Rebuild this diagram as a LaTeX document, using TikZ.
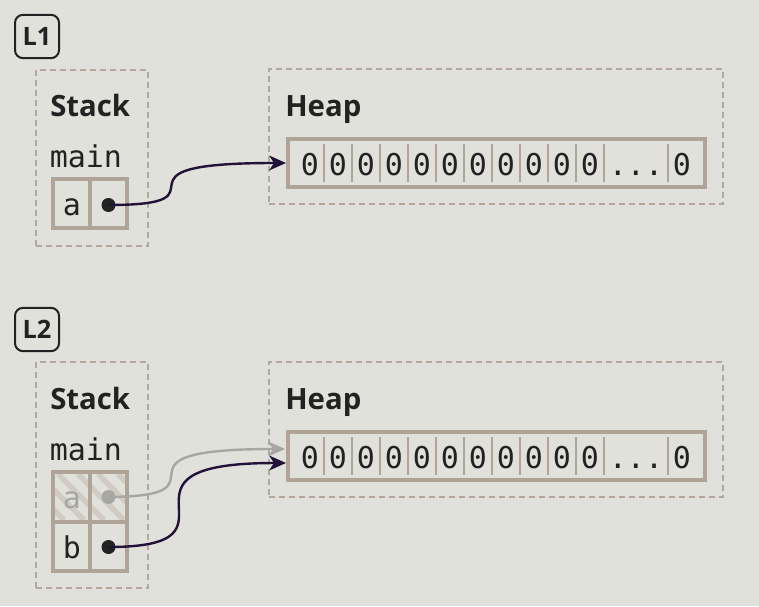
\documentclass[tikz,border=0pt]{standalone}
\usepackage{fontspec}
\setmainfont{Open Sans}
\newfontfamily\monofont{DejaVu Sans Mono}
\usetikzlibrary{arrows.meta}
\definecolor{bg}{HTML}{E1E1DB}
\definecolor{taupe}{HTML}{AFA497}
\definecolor{dashc}{HTML}{B3A89B}
\definecolor{ink}{HTML}{222222}
\definecolor{arrowc}{HTML}{22123A}
\definecolor{fadec}{HTML}{A6A6A3}
\definecolor{hatchc}{HTML}{D1CCC3}
\begin{document}
\begin{tikzpicture}[x=0.75pt,y=-0.75pt,
  region/.style={draw=dashc, line width=1.1pt, dash pattern=on 4.5pt off 3pt, inner sep=0pt},
  labelbox/.style={draw=ink, line width=1.5pt, rounded corners=6pt, minimum width=33pt, minimum height=32.5pt, inner sep=0pt, text=ink, font=\fontsize{19pt}{21pt}\selectfont\bfseries},
  heading/.style={inner sep=0pt, anchor=base west, text=ink, font=\fontsize{22pt}{25pt}\selectfont\bfseries},
  mono/.style={inner sep=0pt, anchor=base, text=ink, font=\monofont\fontsize{22.5pt}{25pt}\selectfont},
  arraybox/.style={draw=taupe, line width=3pt, minimum width=312.75pt, minimum height=36pt, inner sep=0pt},
  tablebox/.style={draw=taupe, line width=3pt, inner sep=0pt, minimum width=55.5pt},
  divider/.style={draw=taupe, line width=1.5pt},
  celldiv/.style={draw=taupe, line width=2.5pt},
  ptr/.style={circle, fill=ink, minimum size=10.5pt, inner sep=0pt},
  fadeptr/.style={circle, fill=fadec, minimum size=10.5pt, inner sep=0pt},
  conn/.style={draw=arrowc, line width=1.8pt, -{Stealth[length=12.5pt,width=11pt,inset=3.5pt]}},
  fadeconn/.style={draw=fadec, line width=1.8pt, -{Stealth[length=12.5pt,width=11pt,inset=3.5pt]}}
]
\fill[bg] (0,0) rectangle (759,606);
\useasboundingbox (0,0) rectangle (759,606);

% ================= L1 =================
\node[labelbox] (lab1) at (37,36.5) {L1};
\node[region, minimum width=84pt, minimum height=132pt] (stack1) at (92,158) {};
\node[region, minimum width=340.5pt, minimum height=101.25pt] (heap1) at (496,136.5) {};
\node[heading] (stackt1) at (50,116.5) {Stack};
\node[heading] (heapt1) at (285,116.5) {Heap};
\node[mono, anchor=base west] (main1) at (49.5,167.5) {main};

\node[tablebox, minimum height=36.75pt] (tab1) at (90,203.5) {};
\draw[celldiv] (90,179) -- (90,228);
\node[mono] (va1) at (72,215) {a};
\node[ptr] (pa1) at (108.5,205) {};

\node[arraybox] (arr1) at (496.5,163) {};
\foreach \i in {0,...,10} {
  \node[mono] (z1-\i) at ({310+28*\i},175) {0};
}
\foreach \x in {324,352,...,604} { \draw[divider] (\x,144) -- (\x,182); }
\draw[divider] (668,144) -- (668,182);
\node[mono] (dots1) at (636,175) {...};
\node[mono] (zl1) at (682,175) {0};
\coordinate (in1) at (286,163);

\draw[conn] (pa1.center) .. controls (240,205) and (90,163) .. (in1);

% ================= L2 =================
\node[labelbox] (lab2) at (37,329.5) {L2};
\node[region, minimum width=84pt, minimum height=169.5pt] (stack2) at (92,475) {};
\node[region, minimum width=340.5pt, minimum height=101.25pt] (heap2) at (496,429.5) {};
\node[heading] (stackt2) at (50,409.5) {Stack};
\node[heading] (heapt2) at (285,409.5) {Heap};
\node[mono, anchor=base west] (main2) at (49.5,460.5) {main};

% hatch for the faded row
\begin{scope}
  \clip (55,474) rectangle (125,520);
  \foreach \s in {-62,-42,...,130} {
    \draw[hatchc, line width=4pt] (\s,474) -- ({\s+46},520);
  }
\end{scope}
\node[tablebox, minimum height=74.25pt] (tab2) at (90,521.5) {};
\draw[celldiv] (90,472) -- (90,571);
\draw[celldiv] (53,522) -- (127,522);
\node[mono, text=fadec] (va2) at (72,508.5) {a};
\node[fadeptr] (pa2) at (108.5,497) {};
\node[mono] (vb2) at (72,558) {b};
\node[ptr] (pb2) at (108.5,547) {};

\node[arraybox] (arr2) at (496.5,456) {};
\foreach \i in {0,...,10} {
  \node[mono] (z2-\i) at ({310+28*\i},468) {0};
}
\foreach \x in {324,352,...,604} { \draw[divider] (\x,437) -- (\x,475); }
\draw[divider] (668,437) -- (668,475);
\node[mono] (dots2) at (636,468) {...};
\node[mono] (zl2) at (682,468) {0};
\coordinate (in2a) at (285,449);
\coordinate (in2b) at (286,463);

\draw[fadeconn] (pa2.center) .. controls (240,496) and (90,449) .. (in2a);
\draw[conn] (pb2.center) .. controls (260,547) and (89,463) .. (in2b);
\end{tikzpicture}
\end{document}
